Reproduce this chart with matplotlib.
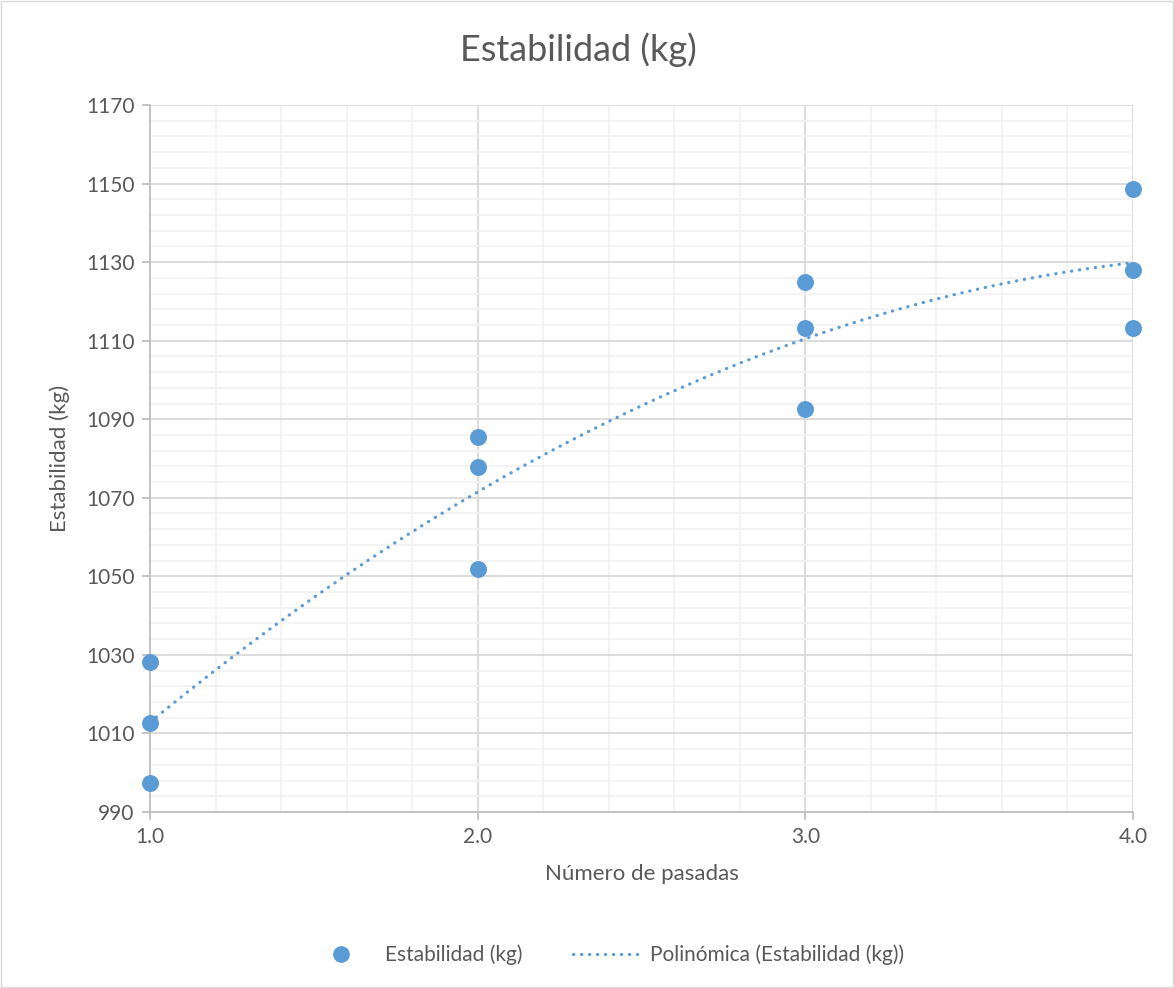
import numpy as np
import matplotlib
matplotlib.use("Agg")
import matplotlib.pyplot as plt
from matplotlib.ticker import MultipleLocator
from matplotlib.lines import Line2D

plt.rcParams['font.family'] = ['Lato', 'DejaVu Sans']

# data
pasadas = [1, 1, 1, 2, 2, 2, 3, 3, 3, 4, 4, 4]
estabilidad = [1028.2, 1012.7, 997.4, 1085.5, 1077.8, 1051.9,
               1124.9, 1113.2, 1092.6, 1148.6, 1128.0, 1113.2]
y_ticks = list(range(990, 1171, 20))
x_ticks = [1.0, 2.0, 3.0, 4.0]

BLUE = "#5B9BD5"
TXT = "#595959"
GRID = "#D9D9D9"
MINOR = "#F2F2F2"

fig = plt.figure(figsize=(11.74, 9.88), dpi=100)
ax = fig.add_axes([150 / 1174, 176 / 988, 983 / 1174, 707 / 988])

# 2nd order polynomial trendline (as Excel does)
coef = np.polyfit(pasadas, estabilidad, 2)
xs = np.linspace(1, 4, 200)
ax.plot(xs, np.polyval(coef, xs), color=BLUE, lw=2.3, linestyle=(0, (0.1, 2.4)),
        dash_capstyle='round', zorder=3)
ax.scatter(pasadas, estabilidad, s=125, color=BLUE, zorder=4, clip_on=False)

ax.set_xlim(1, 4)
ax.set_ylim(990, 1170)
ax.set_xticks(x_ticks)
ax.set_xticklabels([f"{v:.1f}" for v in x_ticks])
ax.set_yticks(y_ticks)
ax.xaxis.set_minor_locator(MultipleLocator(0.2))
ax.set_yticks(np.arange(990, 1171, 4), minor=True)

ax.grid(which='major', color=GRID, lw=1.3, zorder=0)
ax.grid(which='minor', color=MINOR, lw=1.3, zorder=0)
ax.set_axisbelow(True)

for s in ['top', 'right']:
    ax.spines[s].set_visible(False)
for s in ['left', 'bottom']:
    ax.spines[s].set_color("#BFBFBF")
    ax.spines[s].set_linewidth(1.3)

ax.tick_params(which='major', length=6, color="#BFBFBF", width=1.3,
               labelsize=15, labelcolor=TXT, pad=5)
ax.tick_params(which='minor', length=0)

ax.set_xlabel("Número de pasadas", fontsize=16, color=TXT, labelpad=12)
ax.set_ylabel("Estabilidad (kg)", fontsize=16, color=TXT, labelpad=12)
fig.text(578 / 1174, 1 - 50 / 988, "Estabilidad (kg)", fontsize=26, color=TXT,
         ha='center', va='center')

handles = [
    Line2D([], [], marker='o', linestyle='none', color=BLUE, markersize=11),
    Line2D([], [], color=BLUE, lw=2.3, linestyle=(0, (0.1, 2.4)), dash_capstyle='round'),
]
fig.legend(handles, ["Estabilidad (kg)", "Polinómica (Estabilidad (kg))"],
           loc='center', bbox_to_anchor=(606 / 1174, 1 - 955 / 988), ncol=2,
           frameon=False, fontsize=15, labelcolor=TXT, handlelength=3.2,
           columnspacing=2.4, handletextpad=0.5)

# chart area border
fig.patches.append(plt.Rectangle((0.001, 0.001), 0.998, 0.998, transform=fig.transFigure,
                                 fill=False, edgecolor="#D9D9D9", lw=1))

fig.savefig("out.png", dpi=100)
